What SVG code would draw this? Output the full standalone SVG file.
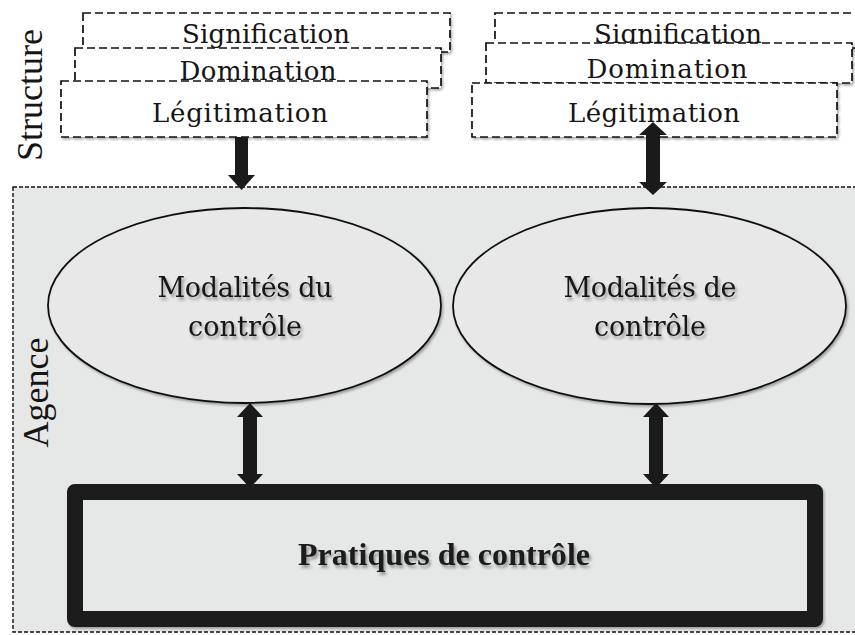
<svg xmlns="http://www.w3.org/2000/svg" width="855" height="635" viewBox="0 0 855 635">
<defs>
<style>
.dbox{fill:#ffffff;stroke:#111;stroke-width:1.7;stroke-dasharray:8 4}
.btxt{font-family:"DejaVu Serif","Liberation Serif",serif;font-size:26px;fill:#151515;text-anchor:middle}
.etxt{font-family:"DejaVu Serif","Liberation Serif",serif;font-size:27px;fill:#151515;text-anchor:middle}
.side{font-family:"Liberation Serif","Times New Roman",serif;font-size:36px;fill:#151515;text-anchor:middle}
.ell{fill:#e8e8e8;stroke:#111;stroke-width:1.8}
.arr{fill:#1a1a1a}
</style>
<filter id="sh" x="-10%" y="-20%" width="130%" height="150%">
<feDropShadow dx="2" dy="3" stdDeviation="1.6" flood-color="#000" flood-opacity="0.35"/>
</filter>
<filter id="bsh" x="-5%" y="-10%" width="115%" height="130%">
<feDropShadow dx="1.5" dy="2" stdDeviation="1.2" flood-color="#000" flood-opacity="0.3"/>
</filter>
</defs>
<rect width="855" height="635" fill="#ffffff"/>

<g id="agence">
<rect x="13" y="187" width="850" height="445" fill="#e6e7e7" stroke="#111" stroke-width="1.4" stroke-dasharray="4 2"/>
<text class="side" transform="translate(48,392.5) rotate(-90)">Agence</text>
</g>

<g id="structure">
<text class="side" transform="translate(42,95) rotate(-90)">Structure</text>
</g>

<g id="left-signification">
<rect class="dbox" x="83" y="13" width="367" height="39" filter="url(#bsh)"/>
<text class="btxt" x="266" y="43" textLength="168">Signification</text>
</g>
<g id="left-domination">
<rect class="dbox" x="75" y="48" width="366" height="40" filter="url(#bsh)"/>
<text class="btxt" x="258" y="80" textLength="157">Domination</text>
</g>
<g id="left-legitimation">
<rect class="dbox" x="61" y="81" width="366" height="56" filter="url(#bsh)"/>
<text class="btxt" x="240" y="122" textLength="176">Légitimation</text>
</g>

<g id="right-signification">
<rect class="dbox" x="495" y="13" width="380" height="35" filter="url(#bsh)"/>
<text class="btxt" x="678" y="43" textLength="168">Signification</text>
</g>
<g id="right-domination">
<rect class="dbox" x="486" y="43" width="366" height="40" filter="url(#bsh)"/>
<text class="btxt" x="667" y="78" textLength="161">Domination</text>
</g>
<g id="right-legitimation">
<rect class="dbox" x="472" y="83" width="365" height="54" filter="url(#bsh)"/>
<text class="btxt" x="654" y="122" textLength="172">Légitimation</text>
</g>

<g id="modalites-du-controle">
<ellipse class="ell" cx="244.5" cy="305.5" rx="196.5" ry="97.5" filter="url(#bsh)"/>
<g filter="url(#sh)">
<text class="etxt" x="245" y="297" textLength="175">Modalités du</text>
<text class="etxt" x="245" y="336" textLength="114">contrôle</text>
</g>
</g>

<g id="modalites-de-controle">
<ellipse class="ell" cx="649.5" cy="306" rx="196.5" ry="98" filter="url(#bsh)"/>
<g filter="url(#sh)">
<text class="etxt" x="650" y="297" textLength="173">Modalités de</text>
<text class="etxt" x="650" y="336" textLength="112">contrôle</text>
</g>
</g>

<g id="connectors">
<polygon class="arr" points="235,137 248,137 248,175 255,175 241.5,190 228,175 235,175"/>
<polygon class="arr" points="653,122 667,135 660,135 660,182 667,182 653,195 639,182 646,182 646,135 639,135"/>
<polygon class="arr" points="250,403 263,417 257,417 257,474 263,474 250,488 237,474 243,474 243,417 237,417"/>
<polygon class="arr" points="656,403 669,417 663,417 663,474 669,474 656,488 643,474 649,474 649,417 643,417"/>
</g>

<g id="pratiques-de-controle">
<rect x="75" y="492" width="740" height="127" fill="#e6e7e7" stroke="#1a1a1a" stroke-width="16" stroke-linejoin="round" filter="url(#bsh)"/>
<text x="444" y="565" font-family="'Liberation Serif','Times New Roman',serif" font-size="32" font-weight="bold" fill="#1a1a1a" text-anchor="middle" textLength="292" filter="url(#sh)">Pratiques de contrôle</text>
</g>
</svg>
